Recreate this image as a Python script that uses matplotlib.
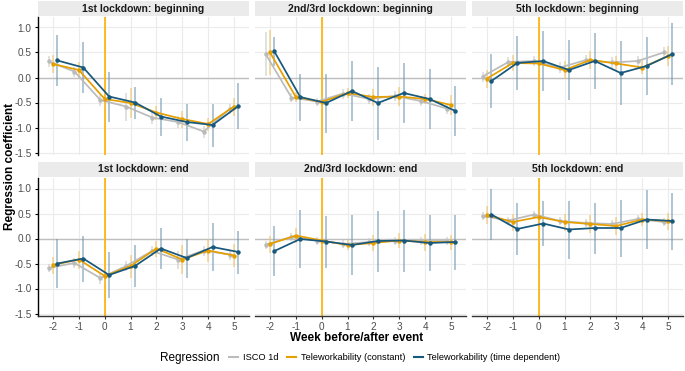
import matplotlib
matplotlib.use("Agg")
import matplotlib.pyplot as plt
from matplotlib.lines import Line2D
import numpy as np

plt.rcParams['font.family'] = ['Liberation Sans', 'DejaVu Sans']

weeks = [-2, -1, 0, 1, 2, 3, 4, 5]
panel_titles = ["1st lockdown: beginning", "2nd/3rd lockdown: beginning", "5th lockdown: beginning",
                "1st lockdown: end", "2nd/3rd lockdown: end", "5th lockdown: end"]
series_names = ["ISCO 1d", "Teleworkability (constant)", "Teleworkability (time dependent)"]

# Panel 1: 1st lockdown beginning
p1_isco = [0.32, 0.12, -0.45, -0.58, -0.80, -0.89, -1.08, -0.63]
p1_const = [0.27, 0.15, -0.43, -0.51, -0.70, -0.83, -0.93, -0.58]
p1_time = [0.34, 0.20, -0.38, -0.50, -0.78, -0.89, -0.95, -0.57]
p1_isco_ci = [0.10, 0.10, 0.11, 0.28, 0.12, 0.12, 0.12, 0.10]
p1_const_ci = [0.18, 0.16, 0.20, 0.30, 0.14, 0.17, 0.13, 0.18]
p1_time_ci = [0.50, 0.50, 0.50, 0.32, 0.38, 0.37, 0.43, 0.46]

# Panel 2: 2nd/3rd lockdown beginning
p2_isco = [0.47, -0.40, -0.48, -0.32, -0.43, -0.37, -0.47, -0.62]
p2_const = [0.50, -0.39, -0.49, -0.31, -0.39, -0.38, -0.43, -0.55]
p2_time = [0.52, -0.39, -0.51, -0.27, -0.51, -0.31, -0.43, -0.67]
p2_isco_ci = [0.43, 0.09, 0.08, 0.10, 0.10, 0.10, 0.10, 0.10]
p2_const_ci = [0.44, 0.10, 0.12, 0.10, 0.17, 0.19, 0.10, 0.20]
p2_time_ci = [0.28, 0.47, 0.59, 0.60, 0.73, 0.60, 0.60, 0.50]

# Panel 3: 5th lockdown beginning
p3_isco = [0.02, 0.31, 0.33, 0.20, 0.35, 0.30, 0.33, 0.50]
p3_const = [-0.02, 0.29, 0.28, 0.15, 0.35, 0.28, 0.20, 0.43]
p3_time = [-0.07, 0.29, 0.33, 0.15, 0.33, 0.09, 0.23, 0.47]
p3_isco_ci = [0.10, 0.10, 0.10, 0.10, 0.10, 0.10, 0.10, 0.10]
p3_const_ci = [0.18, 0.15, 0.15, 0.17, 0.17, 0.15, 0.13, 0.20]
p3_time_ci = [0.53, 0.53, 0.60, 0.60, 0.55, 0.63, 0.58, 0.62]

# Panel 4: 1st lockdown end
p4_isco = [-0.59, -0.49, -0.79, -0.55, -0.25, -0.42, -0.24, -0.32]
p4_const = [-0.53, -0.42, -0.75, -0.55, -0.20, -0.42, -0.24, -0.34]
p4_time = [-0.50, -0.40, -0.73, -0.55, -0.20, -0.39, -0.17, -0.27]
p4_isco_ci = [0.08, 0.10, 0.11, 0.10, 0.10, 0.18, 0.10, 0.10]
p4_const_ci = [0.17, 0.18, 0.15, 0.23, 0.16, 0.29, 0.23, 0.23]
p4_time_ci = [0.49, 0.46, 0.46, 0.42, 0.41, 0.39, 0.48, 0.43]

# Panel 5: 2nd/3rd lockdown end
p5_isco = [-0.12, 0.03, -0.04, -0.11, -0.07, -0.04, -0.05, -0.05]
p5_const = [-0.11, 0.06, -0.04, -0.13, -0.09, -0.04, -0.07, -0.07]
p5_time = [-0.25, -0.01, -0.06, -0.13, -0.05, -0.04, -0.09, -0.07]
p5_isco_ci = [0.08, 0.08, 0.08, 0.08, 0.08, 0.08, 0.08, 0.08]
p5_const_ci = [0.17, 0.15, 0.10, 0.10, 0.16, 0.15, 0.17, 0.15]
p5_time_ci = [0.50, 0.58, 0.52, 0.60, 0.61, 0.62, 0.56, 0.55]

# Panel 6: 5th lockdown end
p6_isco = [0.45, 0.36, 0.48, 0.35, 0.31, 0.29, 0.39, 0.33]
p6_const = [0.47, 0.33, 0.43, 0.33, 0.29, 0.25, 0.38, 0.35]
p6_time = [0.48, 0.19, 0.30, 0.18, 0.21, 0.21, 0.38, 0.35]
p6_isco_ci = [0.08, 0.08, 0.08, 0.08, 0.08, 0.08, 0.08, 0.08]
p6_const_ci = [0.18, 0.17, 0.15, 0.17, 0.18, 0.18, 0.13, 0.17]
p6_time_ci = [0.51, 0.52, 0.45, 0.58, 0.51, 0.57, 0.59, 0.57]

panels = [
    (p1_isco, p1_const, p1_time, p1_isco_ci, p1_const_ci, p1_time_ci),
    (p2_isco, p2_const, p2_time, p2_isco_ci, p2_const_ci, p2_time_ci),
    (p3_isco, p3_const, p3_time, p3_isco_ci, p3_const_ci, p3_time_ci),
    (p4_isco, p4_const, p4_time, p4_isco_ci, p4_const_ci, p4_time_ci),
    (p5_isco, p5_const, p5_time, p5_isco_ci, p5_const_ci, p5_time_ci),
    (p6_isco, p6_const, p6_time, p6_isco_ci, p6_const_ci, p6_time_ci),
]

colors = ["#BBBBBB", "#E69F00", "#17587C"]
ci_colors = ["#C8C8C8", "#F0C060", "#6E96B2"]
offsets = [-0.17, 0.0, 0.17]

W, H = 685, 371
fig = plt.figure(figsize=(W / 100, H / 100), dpi=100)

col_x = [38, 255, 472]
pw = 211
row_y = [17, 178]
ph = 138
strip_h = 15

xt = np.array(weeks, dtype=float)
for i, (title, data) in enumerate(zip(panel_titles, panels)):
    r, c = divmod(i, 3)
    x0, y0 = col_x[c], row_y[r]
    ax = fig.add_axes([x0 / W, 1 - (y0 + ph) / H, pw / W, ph / H])
    # strip
    sax = fig.add_axes([x0 / W, 1 - (y0 - 1) / H, pw / W, strip_h / H])
    sax.set_facecolor("#EBEBEB")
    sax.set_xticks([]); sax.set_yticks([])
    for s in sax.spines.values():
        s.set_visible(False)
    sax.text(0.5, 0.5, title, ha="center", va="center", fontsize=7.5, fontweight="bold", color="#1A1A1A",
             transform=sax.transAxes)

    ax.set_xlim(-2.58, 5.58)
    ax.set_ylim(-1.55, 1.21)
    ax.set_xticks(weeks)
    ax.set_yticks([-1.5, -1.0, -0.5, 0.0, 0.5, 1.0])
    ax.grid(True, color="#EBEBEB", lw=0.8, zorder=0)
    ax.set_axisbelow(True)
    for s in ax.spines.values():
        s.set_visible(False)
    ax.axhline(0, color="#BEBEBE", lw=1.0, zorder=1)
    ax.axvline(0, color="#FFB000", lw=1.2, zorder=2)

    vals = data[:3]
    cis = data[3:]
    for k in range(3):
        v = np.array(vals[k]); e = np.array(cis[k])
        ax.vlines(xt + offsets[k], v - e, v + e, color=ci_colors[k], lw=1.1, alpha=0.7, zorder=3)
    for k in range(3):
        v = np.array(vals[k])
        ax.plot(xt + offsets[k], v, color=colors[k], lw=1.25, marker="o", ms=2.2, zorder=4 + k)

    ax.tick_params(axis="both", length=0, labelsize=7.2, labelcolor="#4D4D4D", pad=2)
    if c == 0:
        ax.spines["left"].set_visible(True)
        ax.spines["left"].set_color("black")
        ax.spines["left"].set_linewidth(1.0)
        ax.tick_params(axis="y", length=2.5, color="black")
        ax.set_yticklabels(["-1.5", "-1.0", "-0.5", "0.0", "0.5", "1.0"])
    else:
        ax.set_yticklabels([])
    if r == 1:
        ax.spines["bottom"].set_visible(True)
        ax.spines["bottom"].set_color("#333333")
        ax.spines["bottom"].set_linewidth(1.0)
        ax.tick_params(axis="x", length=2.5, color="#333333")
        ax.set_xticklabels([str(w) for w in weeks])
    else:
        ax.set_xticklabels([])

fig.text(10 / W, 1 - 166 / H, "Regression coefficient", rotation=90, ha="center", va="center",
         fontsize=8.5, fontweight="bold", color="black")
fig.text(357 / W, 1 - 338 / H, "Week before/after event", ha="center", va="center",
         fontsize=8.5, fontweight="bold", color="black")

fig.text(160 / W, 1 - 358 / H, "Regression", ha="left", va="center", fontsize=8.5, color="black")
handles = [Line2D([0], [0], color=colors[k], lw=1.5) for k in range(3)]
fig.legend(handles, series_names, loc="center left", bbox_to_anchor=(229 / W, 1 - 358 / H),
           ncol=3, frameon=False, fontsize=6.7, handlelength=1.0, handletextpad=0.5,
           columnspacing=0.9, borderaxespad=0, borderpad=0)

fig.savefig("out.png", dpi=100, facecolor="white")
